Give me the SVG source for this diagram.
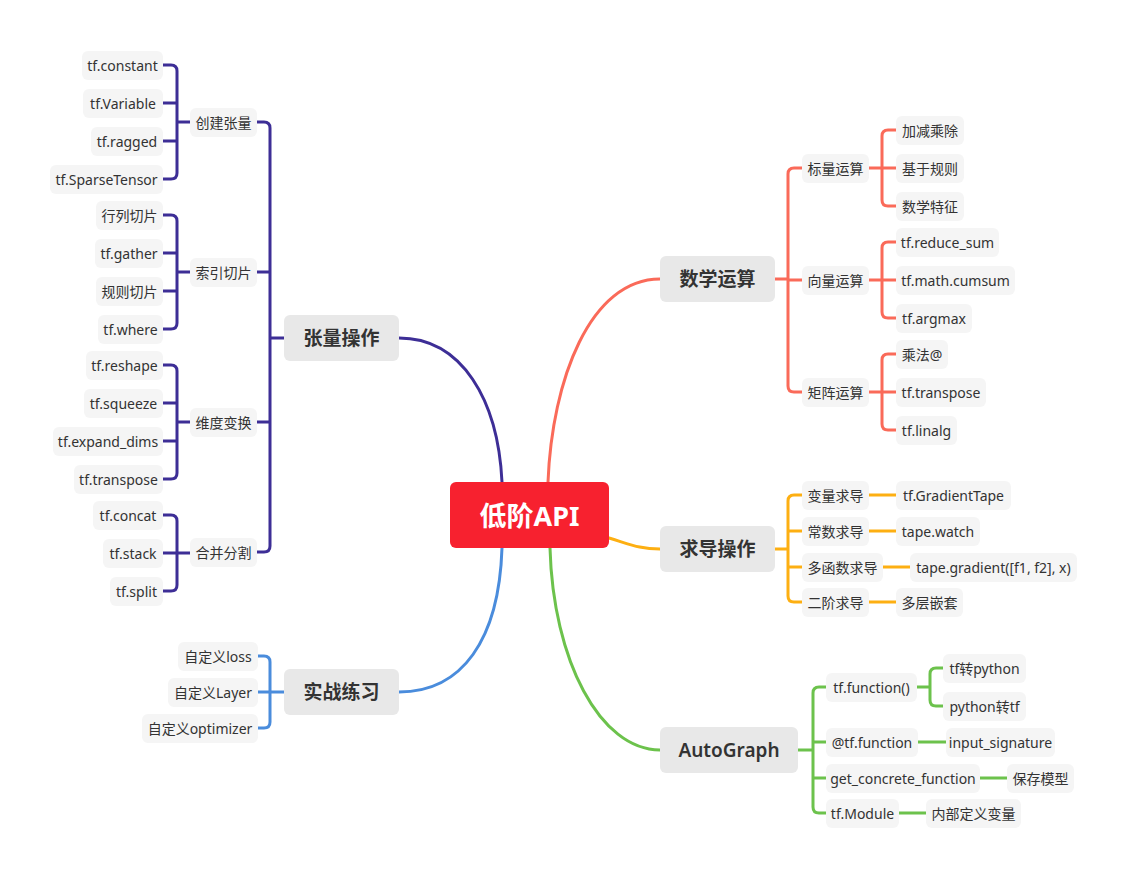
<svg xmlns="http://www.w3.org/2000/svg" width="1128" height="879" viewBox="0 0 1128 879">
<style>
.n rect{fill:#F5F5F5}
.n text{font-family:"Noto Sans","Noto Sans CJK SC",sans-serif;font-size:14px;fill:#333;text-anchor:middle;dominant-baseline:central}
.m rect{fill:#E8E8E8}
.m text{font-family:"Noto Sans","Noto Sans CJK SC",sans-serif;font-size:19px;font-weight:600;fill:#333;text-anchor:middle;dominant-baseline:central}
.c rect{fill:#F7212F}
.c text{font-family:"Noto Sans","Noto Sans CJK SC",sans-serif;font-size:27px;font-weight:700;fill:#fff;text-anchor:middle;dominant-baseline:central}
#connectors path{fill:none;stroke-width:3;stroke-linecap:round}
.p{stroke:#3D2E96}.r{stroke:#FA6A59}.o{stroke:#FDAF12}.g{stroke:#6CC24C}.b{stroke:#4A8CDC}
</style>
<rect width="1128" height="879" fill="#fff"/>
<g id="connectors">
<path class="p" d="M399,338 C462,338 498,400 502,482"/>
<path class="r" d="M548,482 C552,380 590,279 660,279"/>
<path class="o" d="M609,538 C632,545 640,549 660,549"/>
<path class="g" d="M550,548 C553,660 600,750 660,750"/>
<path class="b" d="M502,548 C499,640 462,692 399,692"/>
<path class="p" d="M257,122 H264 Q270,122 270,128 V546 Q270,552 264,552 H257 M257,272 H270 M257,422 H270 M270,338 H284"/>
<path class="p" d="M163,65 H171 Q177,65 177,71 V173 Q177,179 171,179 H163 M163,103 H177 M163,141 H177 M177,122 H190"/>
<path class="p" d="M163,215 H171 Q177,215 177,221 V323 Q177,329 171,329 H163 M163,253 H177 M163,291 H177 M177,272 H190"/>
<path class="p" d="M163,365 H171 Q177,365 177,371 V473 Q177,479 171,479 H163 M163,403 H177 M163,441 H177 M177,422 H190"/>
<path class="p" d="M163,515 H171 Q177,515 177,521 V585 Q177,591 171,591 H163 M163,553 H190"/>
<path class="b" d="M258,656 H264 Q270,656 270,662 V722 Q270,728 264,728 H258 M258,692 H284"/>
<path class="r" d="M775,279 H788 M802,168 H794 Q788,168 788,174 V386 Q788,392 794,392 H802 M788,280 H802"/>
<path class="r" d="M869,168 H882 M896,130 H888 Q882,130 882,136 V200 Q882,206 888,206 H896 M882,168 H896"/>
<path class="r" d="M869,280 H882 M896,242 H888 Q882,242 882,248 V312 Q882,318 888,318 H896 M882,280 H896"/>
<path class="r" d="M869,392 H882 M896,354 H888 Q882,354 882,360 V424 Q882,430 888,430 H896 M882,392 H896"/>
<path class="o" d="M775,549 H788 M802,495 H794 Q788,495 788,501 V596 Q788,602 794,602 H802 M788,531 H802 M788,567 H802"/>
<path class="o" d="M869,495 H896 M869,531 H896 M883,567 H910 M869,602 H896"/>
<path class="g" d="M798,750 H813 M826,687 H819 Q813,687 813,693 V807 Q813,813 819,813 H826 M813,742 H826 M813,778 H826"/>
<path class="g" d="M917,687 H930 M943,668 H936 Q930,668 930,674 V700 Q930,706 936,706 H943"/>
<path class="g" d="M918,742 H946 M980,778 H1007 M899,813 H926"/>
</g>
<g id="center" class="c"><rect x="450" y="482" width="159" height="66" rx="6"/><text x="529.5" y="515">低阶API</text></g>
<g id="t-tensor" class="m"><rect x="284" y="315" width="115" height="46" rx="6"/><text x="341.5" y="338">张量操作</text></g>
<g id="t-math" class="m"><rect x="660" y="256" width="115" height="46" rx="6"/><text x="717.5" y="279">数学运算</text></g>
<g id="t-grad" class="m"><rect x="660" y="526" width="115" height="46" rx="6"/><text x="717.5" y="549">求导操作</text></g>
<g id="t-auto" class="m"><rect x="660" y="727" width="138" height="46" rx="6"/><text x="729" y="750">AutoGraph</text></g>
<g id="t-prac" class="m"><rect x="284" y="669" width="115" height="46" rx="6"/><text x="341.5" y="692">实战练习</text></g>
<g id="s-create" class="n"><rect x="190" y="108" width="67" height="29" rx="6"/><text x="223.5" y="122">创建张量</text></g>
<g id="s-index" class="n"><rect x="190" y="258" width="67" height="29" rx="6"/><text x="223.5" y="272">索引切片</text></g>
<g id="s-dim" class="n"><rect x="190" y="408" width="67" height="29" rx="6"/><text x="223.5" y="422">维度变换</text></g>
<g id="s-merge" class="n"><rect x="190" y="538" width="67" height="29" rx="6"/><text x="223.5" y="552">合并分割</text></g>
<g id="l1" class="n"><rect x="82" y="51" width="81" height="29" rx="6"/><text x="122.5" y="65">tf.constant</text></g>
<g id="l2" class="n"><rect x="83" y="89" width="80" height="29" rx="6"/><text x="123" y="103">tf.Variable</text></g>
<g id="l3" class="n"><rect x="91" y="127" width="72" height="29" rx="6"/><text x="127" y="141">tf.ragged</text></g>
<g id="l4" class="n"><rect x="50" y="165" width="113" height="29" rx="6"/><text x="106.5" y="179">tf.SparseTensor</text></g>
<g id="l5" class="n"><rect x="96" y="201" width="67" height="29" rx="6"/><text x="129.5" y="215">行列切片</text></g>
<g id="l6" class="n"><rect x="95" y="239" width="68" height="29" rx="6"/><text x="129" y="253">tf.gather</text></g>
<g id="l7" class="n"><rect x="96" y="277" width="67" height="29" rx="6"/><text x="129.5" y="291">规则切片</text></g>
<g id="l8" class="n"><rect x="98" y="315" width="65" height="29" rx="6"/><text x="130.5" y="329">tf.where</text></g>
<g id="l9" class="n"><rect x="86" y="351" width="77" height="29" rx="6"/><text x="124.5" y="365">tf.reshape</text></g>
<g id="l10" class="n"><rect x="84" y="389" width="79" height="29" rx="6"/><text x="123.5" y="403">tf.squeeze</text></g>
<g id="l11" class="n"><rect x="53" y="427" width="110" height="29" rx="6"/><text x="108" y="441">tf.expand_dims</text></g>
<g id="l12" class="n"><rect x="74" y="465" width="89" height="29" rx="6"/><text x="118.5" y="479">tf.transpose</text></g>
<g id="l13" class="n"><rect x="93" y="501" width="70" height="29" rx="6"/><text x="128" y="515">tf.concat</text></g>
<g id="l14" class="n"><rect x="103" y="539" width="60" height="29" rx="6"/><text x="133" y="553">tf.stack</text></g>
<g id="l15" class="n"><rect x="110" y="577" width="53" height="29" rx="6"/><text x="136.5" y="591">tf.split</text></g>
<g id="p1" class="n"><rect x="178" y="642" width="80" height="29" rx="6"/><text x="218" y="656">自定义loss</text></g>
<g id="p2" class="n"><rect x="168" y="678" width="90" height="29" rx="6"/><text x="213" y="692">自定义Layer</text></g>
<g id="p3" class="n"><rect x="142" y="714" width="116" height="29" rx="6"/><text x="200" y="728">自定义optimizer</text></g>
<g id="m1" class="n"><rect x="802" y="154" width="67" height="29" rx="6"/><text x="835.5" y="168">标量运算</text></g>
<g id="m2" class="n"><rect x="802" y="266" width="67" height="29" rx="6"/><text x="835.5" y="280">向量运算</text></g>
<g id="m3" class="n"><rect x="802" y="378" width="67" height="29" rx="6"/><text x="835.5" y="392">矩阵运算</text></g>
<g id="m4" class="n"><rect x="896" y="116" width="68" height="29" rx="6"/><text x="930" y="130">加减乘除</text></g>
<g id="m5" class="n"><rect x="896" y="154" width="68" height="29" rx="6"/><text x="930" y="168">基于规则</text></g>
<g id="m6" class="n"><rect x="896" y="192" width="68" height="29" rx="6"/><text x="930" y="206">数学特征</text></g>
<g id="m7" class="n"><rect x="896" y="228" width="103" height="29" rx="6"/><text x="947.5" y="242">tf.reduce_sum</text></g>
<g id="m8" class="n"><rect x="896" y="266" width="119" height="29" rx="6"/><text x="955.5" y="280">tf.math.cumsum</text></g>
<g id="m9" class="n"><rect x="896" y="304" width="76" height="29" rx="6"/><text x="934" y="318">tf.argmax</text></g>
<g id="m10" class="n"><rect x="896" y="340" width="52" height="29" rx="6"/><text x="922" y="354">乘法@</text></g>
<g id="m11" class="n"><rect x="896" y="378" width="90" height="29" rx="6"/><text x="941" y="392">tf.transpose</text></g>
<g id="m12" class="n"><rect x="896" y="416" width="61" height="29" rx="6"/><text x="926.5" y="430">tf.linalg</text></g>
<g id="g1" class="n"><rect x="802" y="481" width="67" height="29" rx="6"/><text x="835.5" y="495">变量求导</text></g>
<g id="g2" class="n"><rect x="802" y="517" width="67" height="29" rx="6"/><text x="835.5" y="531">常数求导</text></g>
<g id="g3" class="n"><rect x="802" y="553" width="81" height="29" rx="6"/><text x="842.5" y="567">多函数求导</text></g>
<g id="g4" class="n"><rect x="802" y="588" width="67" height="29" rx="6"/><text x="835.5" y="602">二阶求导</text></g>
<g id="g5" class="n"><rect x="896" y="481" width="115" height="29" rx="6"/><text x="953.5" y="495">tf.GradientTape</text></g>
<g id="g6" class="n"><rect x="896" y="517" width="84" height="29" rx="6"/><text x="938" y="531">tape.watch</text></g>
<g id="g7" class="n"><rect x="910" y="553" width="167" height="29" rx="6"/><text x="993.5" y="567">tape.gradient([f1, f2], x)</text></g>
<g id="g8" class="n"><rect x="896" y="588" width="67" height="29" rx="6"/><text x="929.5" y="602">多层嵌套</text></g>
<g id="a1" class="n"><rect x="826" y="673" width="91" height="29" rx="6"/><text x="871.5" y="687">tf.function()</text></g>
<g id="a2" class="n"><rect x="826" y="728" width="92" height="29" rx="6"/><text x="872" y="742">@tf.function</text></g>
<g id="a3" class="n"><rect x="826" y="764" width="154" height="29" rx="6"/><text x="903" y="778">get_concrete_function</text></g>
<g id="a4" class="n"><rect x="826" y="799" width="73" height="29" rx="6"/><text x="862.5" y="813">tf.Module</text></g>
<g id="a5" class="n"><rect x="943" y="654" width="83" height="29" rx="6"/><text x="984.5" y="668">tf转python</text></g>
<g id="a6" class="n"><rect x="943" y="692" width="83" height="29" rx="6"/><text x="984.5" y="706">python转tf</text></g>
<g id="a7" class="n"><rect x="946" y="728" width="109" height="29" rx="6"/><text x="1000.5" y="742">input_signature</text></g>
<g id="a8" class="n"><rect x="1007" y="764" width="67" height="29" rx="6"/><text x="1040.5" y="778">保存模型</text></g>
<g id="a9" class="n"><rect x="926" y="799" width="95" height="29" rx="6"/><text x="973.5" y="813">内部定义变量</text></g>
</svg>
